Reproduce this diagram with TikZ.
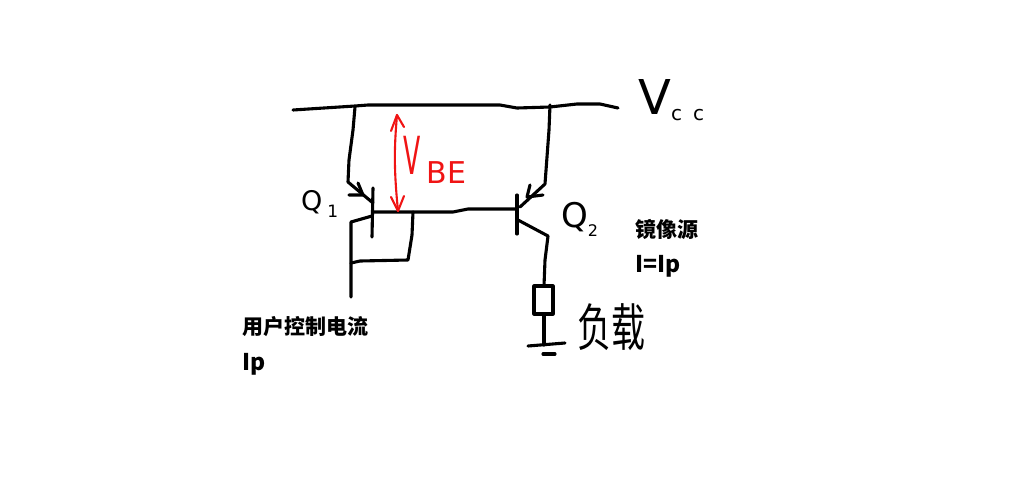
\documentclass[tikz,border=0pt]{standalone}
\usepackage{fontspec}
\setmainfont{Liberation Sans}
\newfontfamily\cjk{Noto Sans CJK SC}
\newfontfamily\hand{DejaVu Sans}
\usepackage{graphicx}
\definecolor{redink}{RGB}{240,20,20}
\tikzset{
 ink/.style={line width=3.1pt,black,line cap=round,line join=round},
 redstroke/.style={line width=2.1pt,redink,line cap=round,line join=round},
 printed/.style={anchor=west,inner sep=0pt,font=\cjk\bfseries\fontsize{21}{21}\selectfont},
 printedlatin/.style={anchor=west,inner sep=0pt,font=\cjk\bfseries\fontsize{23}{23}\selectfont},
 handlabel/.style={anchor=west,inner sep=0pt,font=\hand},
}
\begin{document}
\begin{tikzpicture}[x=1pt,y=-1pt]
\useasboundingbox (0,0) rectangle (1029,501);
\fill[white] (0,0) rectangle (1029,501);
% supply rail
\draw[ink] (293,110) -- (355,106) -- (368,105) -- (500,105) -- (517,108) -- (550,107) -- (577,104) -- (600,104) -- (618,108);
% Q1
\draw[ink] (355,107) -- (353,130) -- (349,160) -- (348,182) -- (373,203);
\draw[ink] (349,195) -- (363,195) -- (358,183);
\draw[ink] (373,188) -- (372,237);
\draw[ink] (372,216) -- (351,222) -- (351,297);
\draw[ink] (373,212) -- (453,212) -- (468,209) -- (517,209);
\draw[ink] (413,212) -- (412,235) -- (408,260) -- (360,261) -- (351,263);
% Q2
\draw[ink] (550,105) -- (549,130) -- (545,184) -- (520,207);
\draw[ink] (530,185) -- (527,197) -- (543,195);
\draw[ink] (517,195) -- (517,234);
\draw[ink] (518,220) -- (548,236) -- (545,260) -- (544,286);
% load
\draw[ink] (534,286) rectangle (553,314);
\draw[ink] (544,314) -- (544,345);
\draw[ink] (528,346) -- (565,343);
\draw[ink] (543,354) -- (555,354);
% VBE arrow
\draw[redstroke] (397,115) .. controls (394,150) and (394,170) .. (398,211);
\draw[redstroke] (391,131) -- (397,115) -- (404,127);
\draw[redstroke] (391,197) -- (398,211) -- (404,196);
% handwritten labels
\node[handlabel] (vcc) at (638,100) {\fontsize{48}{48}\selectfont V\raisebox{-6pt}{\fontsize{20}{20}\selectfont c\hspace{11pt}c}};
\node[handlabel] (q1) at (301,204) {\fontsize{27}{27}\selectfont Q\raisebox{-7pt}{\fontsize{17}{17}\selectfont\hspace{5pt}1}};
\node[handlabel] (q2) at (561,219) {\fontsize{34}{34}\selectfont Q\raisebox{-9pt}{\fontsize{16}{16}\selectfont 2}};
\node[handlabel,text=redink] (vbe) at (403,160) {\scalebox{0.6}[1.25]{\fontsize{42}{42}\selectfont V}\hspace{6pt}\raisebox{-9pt}{\fontsize{30}{30}\selectfont BE}};
\node[handlabel,font=\cjk\fontsize{34}{34}\selectfont] (load) at (577,327) {\scalebox{1}[1.5]{负载}};
% printed labels
\node[printed] (user) at (242,327) {用户控制电流};
\node[printedlatin] (ip) at (242,364) {Ip};
\node[printed] (mirror) at (635,229) {镜像源};
\node[printedlatin] (eq) at (635,266) {I=Ip};
\end{tikzpicture}
\end{document}
